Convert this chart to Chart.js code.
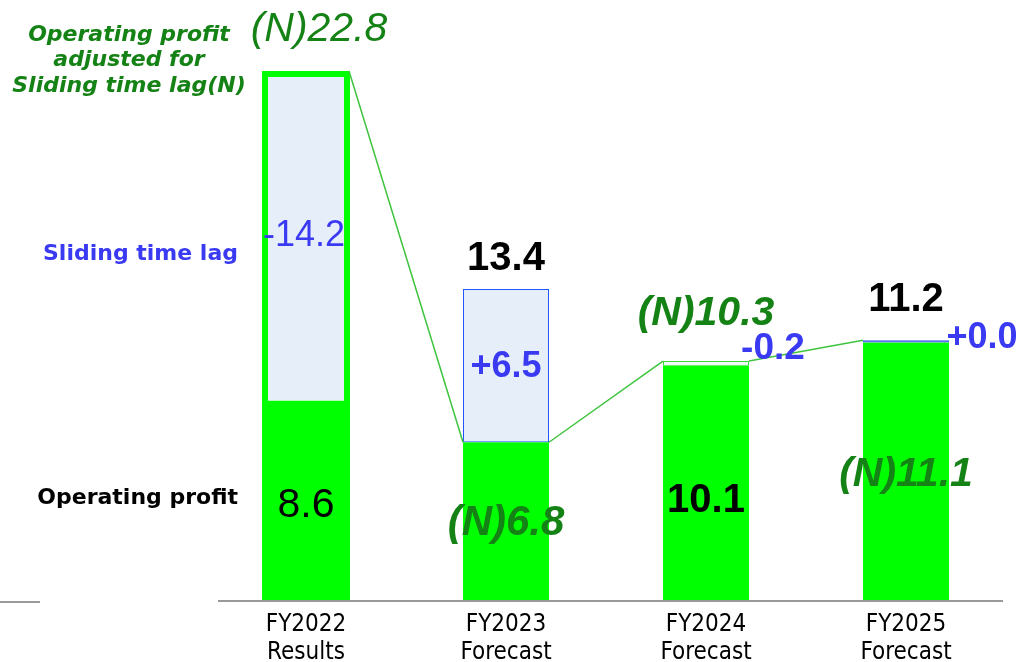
<!DOCTYPE html>
<html>
<head>
<meta charset="utf-8">
<script src="https://cdn.jsdelivr.net/npm/chart.js@4.4.1/dist/chart.umd.min.js"></script>
<style>
  html, body { margin: 0; padding: 0; background: #fff; }
  #wrap { width: 1019px; height: 662px; }
</style>
</head>
<body>
<div id="wrap"><canvas id="profit"></canvas></div>
<script>
var years = [['FY2022', 'Results'], ['FY2023', 'Forecast'], ['FY2024', 'Forecast'], ['FY2025', 'Forecast']];
var op_profit = [8.6, 6.8, 10.1, 11.1];       // operating profit
var adjusted = [22.8, 13.4, 10.3, 11.2];      // adjusted for sliding time lag (N)
var time_lag = ['-14.2', '+6.5', '-0.2', '+0.0'];

var GREEN = '#00ff00';
var DARK_GREEN = '#148214';
var BLUE = '#3a3af2';

var lower = [], upper = [], outline = [];
for (var i = 0; i < years.length; i++) {
    lower.push([0, op_profit[i]]);
    upper.push([op_profit[i], adjusted[i]]);
    outline.push(i == 0 ? [0, adjusted[i]] : null);
}
function mid(i) { return (op_profit[i] + adjusted[i]) / 2; }

// value labels: [category, value, text, font, colour, dx, dy]
var labels = [
    [0, adjusted[0], '(N)' + adjusted[0], 'italic 41px "Liberation Sans"', DARK_GREEN, 13, -41],
    [0, mid(0), time_lag[0], '36px "Liberation Sans"', BLUE, -2, 0],
    [0, op_profit[0], String(op_profit[0]), '41px "Liberation Sans"', '#000', 0, 105],
    [1, adjusted[1], String(adjusted[1]), 'bold 40px "Liberation Sans"', '#000', 0, -30],
    [1, mid(1), time_lag[1], 'bold 36px "Liberation Sans"', BLUE, 0, 1],
    [1, op_profit[1], '(N)' + op_profit[1], 'italic bold 42px "Liberation Sans"', DARK_GREEN, 0, 81],
    [2, adjusted[2], '(N)' + adjusted[2], 'italic bold 41px "Liberation Sans"', DARK_GREEN, 0, -47],
    [2, adjusted[2], time_lag[2], 'bold 37px "Liberation Sans"', BLUE, 67, -12],
    [2, op_profit[2], String(op_profit[2]), 'bold 40px "Liberation Sans"', '#000', 0, 135],
    [3, adjusted[3], String(adjusted[3]), 'bold 40px "Liberation Sans"', '#000', 0, -40],
    [3, adjusted[3], time_lag[3], 'bold 36px "Liberation Sans"', BLUE, 76, -2],
    [3, op_profit[3], '(N)' + op_profit[3], 'italic bold 41px "Liberation Sans"', DARK_GREEN, 0, 132]
];

var extras = {
    id: 'extras',
    afterDatasetsDraw: function(chart) {
        var ctx = chart.ctx;
        var xs = chart.scales.x, ys = chart.scales.y;
        var bars = chart.getDatasetMeta(2).data;
        ctx.save();

        // connectors between bars
        ctx.strokeStyle = '#3ec43e';
        ctx.lineWidth = 1.5;
        var pts = [[0, adjusted[0], 1, op_profit[1]], [1, op_profit[1], 2, adjusted[2]], [2, adjusted[2], 3, adjusted[3]]];
        pts.forEach(function(p) {
            var a = bars[p[0]], b = bars[p[2]];
            ctx.beginPath();
            ctx.moveTo(a.x + a.width / 2, ys.getPixelForValue(p[1]));
            ctx.lineTo(b.x - b.width / 2, ys.getPixelForValue(p[3]));
            ctx.stroke();
        });

        // axis lines
        ctx.strokeStyle = '#999';
        ctx.lineWidth = 2;
        ctx.beginPath();
        ctx.moveTo(218, ys.getPixelForValue(0) + 1);
        ctx.lineTo(1003, ys.getPixelForValue(0) + 1);
        ctx.moveTo(0, ys.getPixelForValue(0) + 2);
        ctx.lineTo(40, ys.getPixelForValue(0) + 2);
        ctx.stroke();

        ctx.textAlign = 'center';
        ctx.textBaseline = 'middle';
        labels.forEach(function(l) {
            ctx.font = l[3];
            ctx.fillStyle = l[4];
            ctx.fillText(l[2], xs.getPixelForValue(l[0]) + l[5], ys.getPixelForValue(l[1]) + l[6]);
        });

        // series names on the left
        ctx.font = 'italic bold 22px "DejaVu Sans"';
        ctx.fillStyle = DARK_GREEN;
        ctx.fillText('Operating profit', 129, 35);
        ctx.fillText('adjusted for', 129, 60);
        ctx.fillText('Sliding time lag(N)', 129, 86);
        ctx.textAlign = 'right';
        ctx.font = 'bold 22px "DejaVu Sans"';
        ctx.fillStyle = BLUE;
        ctx.fillText('Sliding time lag', 238, 254);
        ctx.fillStyle = '#000';
        ctx.fillText('Operating profit', 238, 498);
        ctx.restore();
    }
};

new Chart(document.getElementById('profit').getContext('2d'), {
    type: 'bar',
    data: {
        labels: years,
        datasets: [{
            label: 'Adjusted',
            data: outline,
            order: 0,
            backgroundColor: 'rgba(0,0,0,0)',
            borderColor: GREEN,
            borderWidth: 6,
            borderSkipped: false,
            barPercentage: 0.44
        }, {
            label: 'Sliding time lag',
            data: upper,
            order: 1,
            backgroundColor: ['#e6eef9', '#e6eef9', '#f4f8fc', '#4444ee'],
            borderColor: [GREEN, '#2255ff', '#33dd33', '#3355ee'],
            borderWidth: [0, 1, 1, 1],
            borderSkipped: false,
            barPercentage: 0.43
        }, {
            label: 'Operating profit',
            data: lower,
            order: 2,
            backgroundColor: GREEN,
            borderWidth: 0,
            barPercentage: 0.43
        }]
    },
    options: {
        responsive: true,
        maintainAspectRatio: false,
        animation: false,
        layout: { padding: { left: 206, right: 13, top: 20, bottom: 0 } },
        datasets: { bar: { grouped: false, categoryPercentage: 1 } },
        plugins: { legend: { display: false }, tooltip: { enabled: false } },
        scales: {
            x: {
                grid: { display: false, drawTicks: false },
                border: { display: false },
                ticks: {
                    padding: 10,
                    color: '#000',
                    font: { family: '"Liberation Sans Narrow", "DejaVu Sans Condensed", sans-serif', size: 24, lineHeight: 1.2 }
                },
                afterFit: function(scale) { scale.height = 62; }
            },
            y: { display: false, min: 0, max: 25 }
        }
    },
    plugins: [extras]
});
</script>
</body>
</html>
